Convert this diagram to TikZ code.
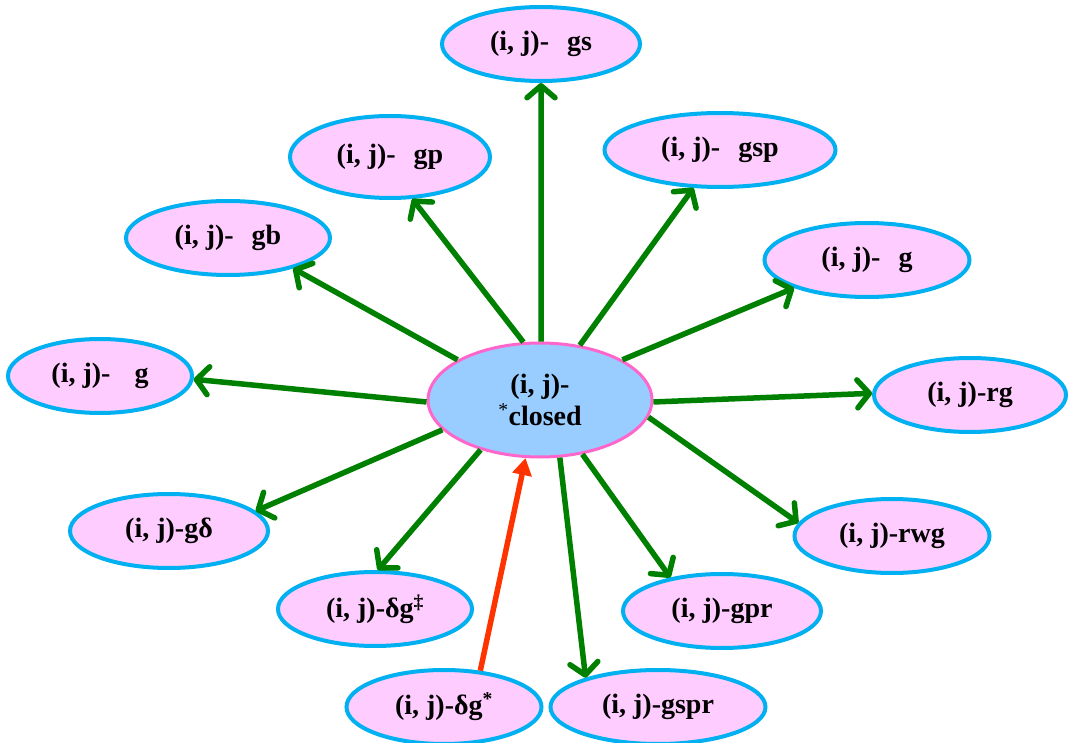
\documentclass[tikz,border=0pt]{standalone}
\usepackage{fontspec}
\setmainfont{Liberation Serif}
\usetikzlibrary{arrows.meta,shapes.geometric}
\definecolor{eborder}{HTML}{00B0F0}
\definecolor{efill}{HTML}{FFCCFF}
\definecolor{cfill}{HTML}{99CCFF}
\definecolor{cborder}{HTML}{FF66CC}
\definecolor{agreen}{HTML}{008000}
\definecolor{ared}{HTML}{FF3300}
\tikzset{
  leaf/.style={ellipse, draw=eborder, fill=efill, line width=4pt,
    minimum width=198pt, minimum height=74pt, inner sep=0pt,
    font=\fontsize{28}{32}\selectfont\bfseries},
  hub/.style={ellipse, draw=cborder, fill=cfill, line width=3pt,
    minimum width=224pt, minimum height=114pt, inner sep=0pt, align=center,
    font=\fontsize{28}{34}\selectfont\bfseries},
  garrow/.style={draw=agreen, line width=5.5pt,
    -{Straight Barb[length=12pt,width=28pt,round]}},
  rarrow/.style={draw=ared, line width=5.5pt,
    -{Triangle[length=17pt,width=19pt]}},
}
\newcommand{\gapA}{\hspace{18pt}}
\begin{document}
\begin{tikzpicture}[x=1pt,y=-1pt]
\useasboundingbox (0,0) rectangle (1069,743);
\node[hub] (c) at (540,400) {(i, j)-\\[-2pt]\textsuperscript{\normalfont *}closed};
\node[leaf] (gs) at (541,44) {(i, j)-\gapA gs};
\node[leaf, minimum width=200pt, minimum height=82pt] (gp) at (390,157) {(i, j)-\gapA gp};
\node[leaf, minimum width=231pt] (gsp) at (720,150) {(i, j)-\gapA gsp};
\node[leaf, minimum width=204pt] (gb) at (228,238) {(i, j)-\gapA gb};
\node[leaf, minimum width=205pt] (gr) at (867,260) {(i, j)-\gapA g};
\node[leaf, minimum width=184pt] (gl) at (100,376) {(i, j)-\hspace{24pt}g};
\node[leaf, minimum width=192pt] (rg) at (970,395) {(i, j)-rg};
\node[leaf] (gd) at (169,531) {(i, j)-gδ};
\node[leaf, minimum width=195pt] (rwg) at (892,536) {(i, j)-rwg};
\node[leaf, minimum width=194pt] (dgd) at (375,609) {(i, j)-δg\textsuperscript{‡}};
\node[leaf] (gpr) at (722,611) {(i, j)-gpr};
\node[leaf, minimum width=195pt] (dgs) at (444,707) {(i, j)-δg\textsuperscript{*}};
\node[leaf, minimum width=215pt] (gspr) at (658,707) {(i, j)-gspr};

\draw[garrow] (c.89) -- (gs.270);
\draw[garrow] (c.106) -- (gp.298);
\draw[garrow] (c.154) -- (gb.335);
\draw[garrow] (c.54.5) -- (gsp.235);
\draw[garrow] (c.26) -- (gr.201);
\draw[garrow] (c.-1) -- (rg.179);
\draw[garrow] (c.181) -- (gl.-2.5);
\draw[garrow] (c.197) -- (gd.13);
\draw[garrow] (c.-9) -- (rwg.172);
\draw[garrow] (c.220) -- (dgd.86);
\draw[garrow] (c.-52.5) -- (gpr.147);
\draw[garrow] (c.-71.3) -- (gspr.158.5);
\draw[rarrow] (dgs.45) -- (c.256);
\end{tikzpicture}
\end{document}
